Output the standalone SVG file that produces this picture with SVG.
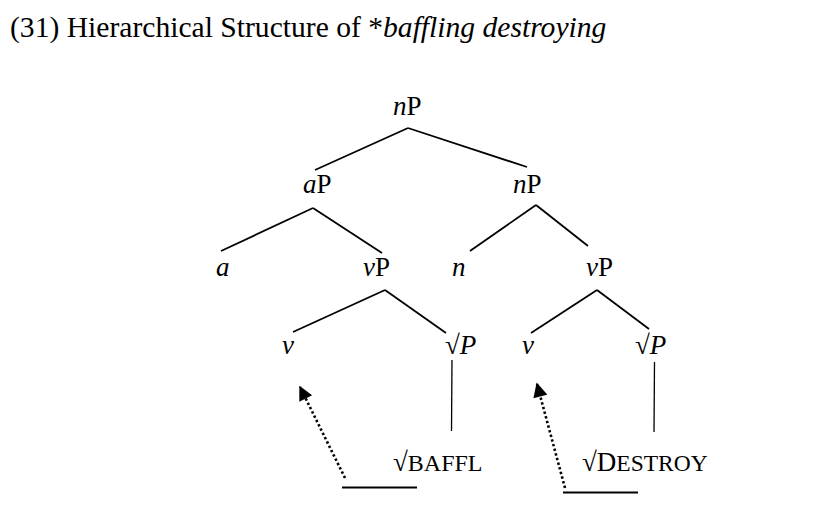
<svg xmlns="http://www.w3.org/2000/svg" width="827" height="505" viewBox="0 0 827 505">
<style>
text{font-family:"Liberation Serif","Times New Roman",serif;fill:#000}
.t{font-size:29.6px}
.l{font-size:27px}
.i{font-style:italic}
.e{stroke:#000;stroke-width:1.8;fill:none}
.v{stroke:#000;stroke-width:1.3;fill:none}
.d{stroke:#000;stroke-width:2.6;fill:none;stroke-dasharray:2.4 2.4}
</style>
<defs>
<marker id="ah" viewBox="0 0 10 10" refX="9" refY="5" markerWidth="6.5" markerHeight="5.5" markerUnits="strokeWidth" orient="auto">
<path d="M0,0 L10,5 L0,10 z" fill="#000"/>
</marker>
</defs>
<rect width="827" height="505" fill="#fff"/>
<text class="t" x="10" y="37">(31) Hierarchical Structure of *<tspan class="i">baffling destroying</tspan></text>
<g id="connectors">
<line class="e" x1="408" y1="128" x2="315" y2="170"/>
<line class="e" x1="408" y1="128" x2="527" y2="167"/>
<line class="e" x1="313" y1="208" x2="221" y2="251"/>
<line class="e" x1="313" y1="208" x2="382" y2="253"/>
<line class="e" x1="536" y1="205" x2="470" y2="251"/>
<line class="e" x1="536" y1="205" x2="588" y2="246"/>
<line class="e" x1="385" y1="290" x2="293" y2="332"/>
<line class="e" x1="385" y1="290" x2="446" y2="333"/>
<line class="e" x1="597" y1="290" x2="531" y2="333"/>
<line class="e" x1="597" y1="290" x2="649" y2="329"/>
<line class="v" x1="452" y1="360" x2="451.5" y2="431"/>
<line class="v" x1="654.5" y1="362" x2="654" y2="432"/>
<line class="e" x1="342" y1="487.5" x2="417" y2="487.5"/>
<line class="e" x1="563" y1="492.5" x2="638" y2="492.5"/>
<line class="d" x1="345" y1="478" x2="300" y2="387" marker-end="url(#ah)"/>
<line class="d" x1="565" y1="488" x2="537" y2="384" marker-end="url(#ah)"/>
</g>
<g id="n-nP-root"><text class="l" x="393" y="115"><tspan class="i">n</tspan>P</text></g>
<g id="n-aP"><text class="l" x="303" y="193"><tspan class="i">a</tspan>P</text></g>
<g id="n-nP"><text class="l" x="513" y="193"><tspan class="i">n</tspan>P</text></g>
<g id="n-a"><text class="l i" x="216" y="276">a</text></g>
<g id="n-vP1"><text class="l" x="363" y="276"><tspan class="i">v</tspan>P</text></g>
<g id="n-n"><text class="l i" x="452" y="276">n</text></g>
<g id="n-vP2"><text class="l" x="586" y="276"><tspan class="i">v</tspan>P</text></g>
<g id="n-v1"><text class="l i" x="282" y="354">v</text></g>
<g id="n-rootP1"><text class="l" x="445" y="354">√<tspan class="i">P</tspan></text></g>
<g id="n-v2"><text class="l i" x="522" y="354">v</text></g>
<g id="n-rootP2"><text class="l" x="635" y="354">√<tspan class="i">P</tspan></text></g>
<g id="n-baffl"><text class="l" x="393" y="471">√<tspan font-size="24">BAFFL</tspan></text></g>
<g id="n-destroy"><text class="l" x="582" y="471">√D<tspan font-size="23.5">ESTROY</tspan></text></g>
</svg>
